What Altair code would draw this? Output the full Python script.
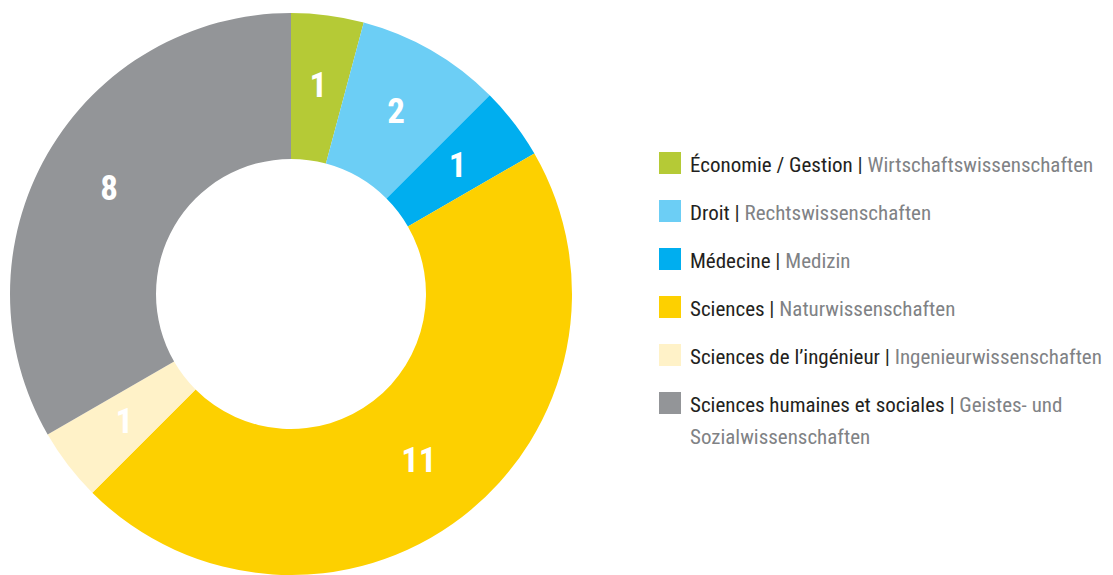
import altair as alt
import pandas as pd

fr = ["Économie / Gestion", "Droit", "Médecine", "Sciences",
      "Sciences de l’ingénieur", "Sciences humaines et sociales"]
de = ["Wirtschaftswissenschaften", "Rechtswissenschaften", "Medizin",
      "Naturwissenschaften", "Ingenieurwissenschaften",
      "Geistes- und\nSozialwissenschaften"]
counts = [1, 2, 1, 11, 1, 8]
colors = ["#b5ca36", "#6ccef5", "#00aeef", "#fdd000", "#fff2c8", "#939598"]

df = pd.DataFrame({"fr": fr, "de": de, "n": counts, "idx": list(range(len(fr)))})
df["black"] = df["fr"] + " |"
df["full"] = df["fr"] + " | " + df["de"]

FONT = "Roboto Condensed"
CX, CY = 283, 286

color = alt.Color("fr:N", scale=alt.Scale(domain=fr, range=colors), legend=None)
theta = alt.Theta("n:Q", stack=True)
order = alt.Order("idx:Q")

arcs = alt.Chart(df).mark_arc(outerRadius=281, innerRadius=135).encode(
    theta=theta, order=order, color=color, x=alt.value(CX), y=alt.value(CY)
)
labels = alt.Chart(df).mark_text(
    radius=210, color="white", font=FONT, fontSize=35, fontWeight="bold",
    align="center", baseline="middle"
).encode(theta=theta, order=order, text="n:Q", x=alt.value(CX), y=alt.value(CY))

yenc = alt.Y("fr:N", sort=fr, axis=None,
             scale=alt.Scale(type="point", padding=0, range=[155, 395]))

squares = alt.Chart(df).mark_square(size=484, opacity=1, filled=True).encode(
    x=alt.value(662), y=yenc, color=color
)
txt = dict(align="left", baseline="alphabetic", dy=9, font=FONT, fontSize=21)
grey_txt = alt.Chart(df).mark_text(
    color="#808285", lineBreak="\n", lineHeight=31.5, **txt
).encode(x=alt.value(682), y=yenc, text="full:N")
mask_txt = alt.Chart(df).mark_text(
    color="white", stroke="white", strokeWidth=1.5, **txt
).encode(x=alt.value(682), y=yenc, text="black:N")
black_txt = alt.Chart(df).mark_text(color="#231f20", **txt).encode(
    x=alt.value(682), y=yenc, text="black:N"
)

chart = alt.layer(arcs, labels, squares, grey_txt, mask_txt, black_txt).properties(
    width=1097, height=567, autosize=alt.AutoSizeParams(type="none"), padding=0
).configure_view(stroke=None)

chart.save("out.html", embed_options={"renderer": "svg", "actions": False})
